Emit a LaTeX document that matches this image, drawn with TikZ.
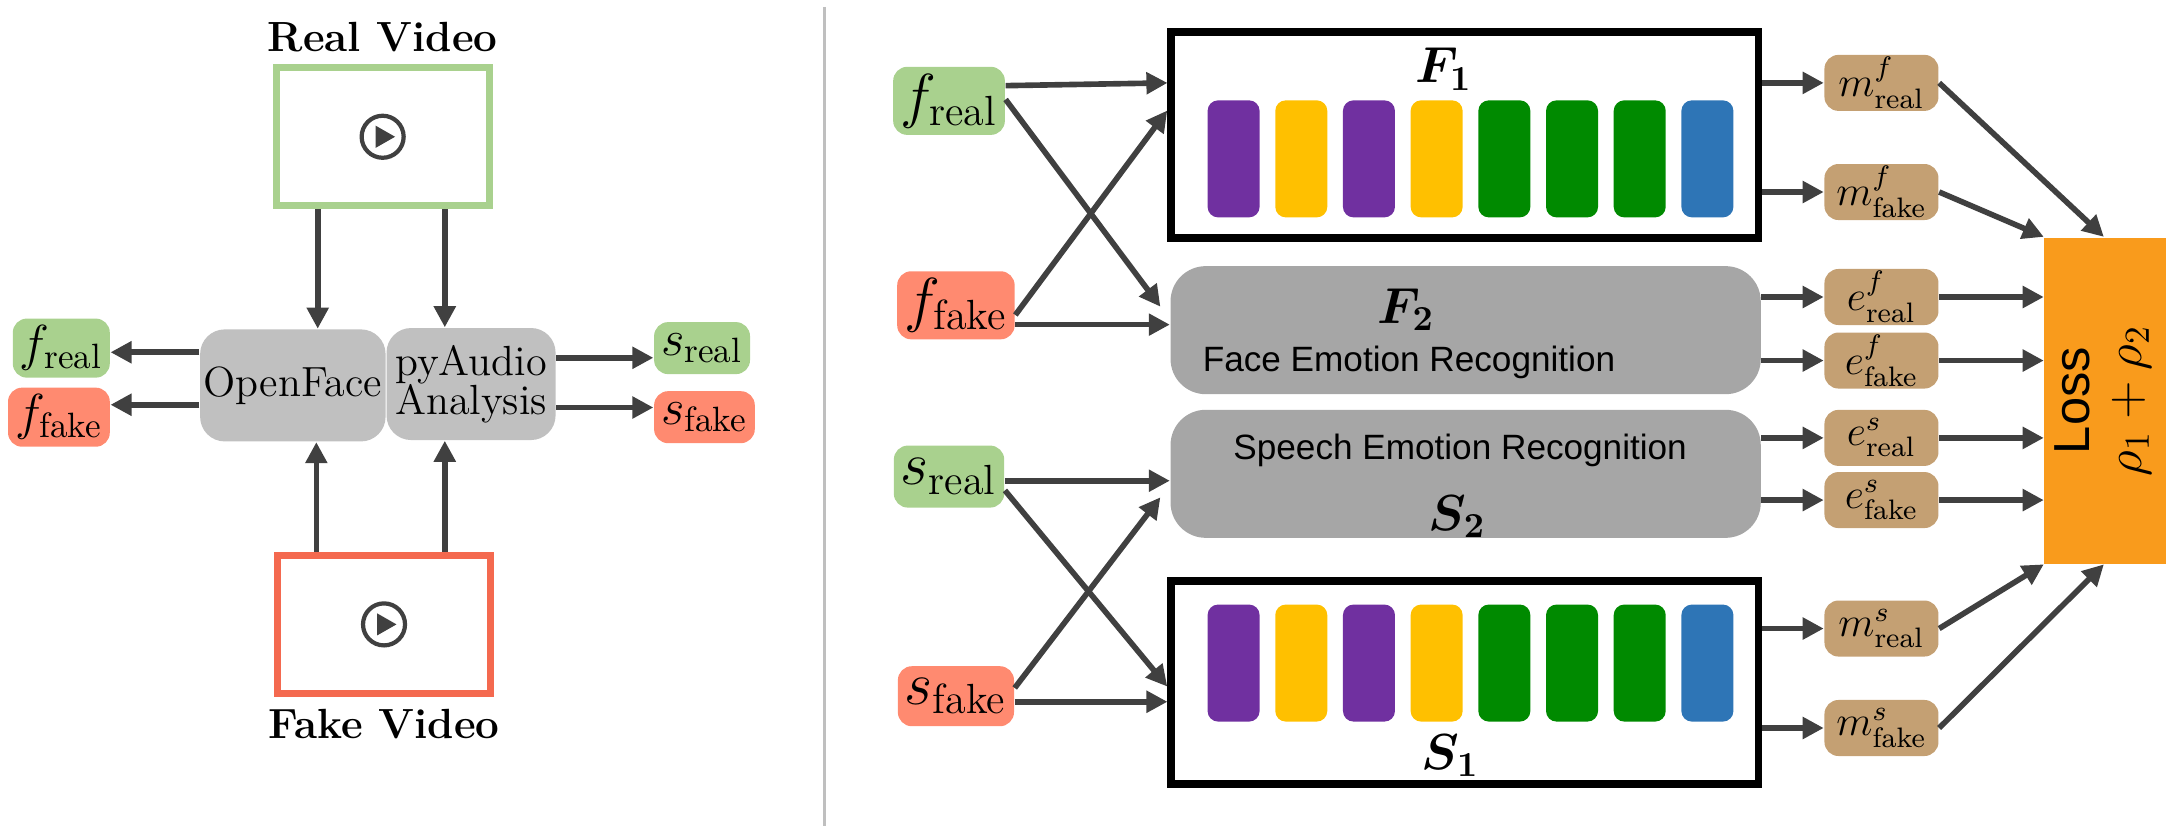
\documentclass[tikz,border=0pt]{standalone}
\usepackage{tikz}
\usepackage{fontspec}
\usepackage{amsmath}
\usetikzlibrary{calc,positioning,arrows.meta}
\newfontfamily\sans{Liberation Sans}
\definecolor{vgreen}{HTML}{A9D18E}
\definecolor{vred}{HTML}{FF8A70}
\definecolor{vredline}{HTML}{F4694F}
\definecolor{vtan}{HTML}{C4A073}
\definecolor{vgray}{HTML}{C0C0C0}
\definecolor{vgraydark}{HTML}{A6A6A6}
\definecolor{vorange}{HTML}{F99B1C}
\definecolor{vpurple}{HTML}{7030A0}
\definecolor{vyellow}{HTML}{FFC000}
\definecolor{vgreenbar}{HTML}{008A00}
\definecolor{vblue}{HTML}{2E75B6}
\definecolor{varrow}{HTML}{404040}
\tikzset{
    feat/.style={rounded corners=4pt,inner sep=2pt,minimum height=0.52cm,font=\LARGE},
    emb/.style={fill=vtan,rounded corners=4pt,minimum width=1.14cm,minimum height=0.56cm,inner sep=0pt,font=\large},
    tool/.style={fill=vgray,rounded corners=7pt,minimum height=1.12cm,inner sep=1pt,font=\large,align=center},
    net/.style={fill=vgraydark,rounded corners=10pt,minimum width=5.9cm,minimum height=1.28cm},
    arr/.style={-{Triangle[length=6pt,width=6pt]},line width=1.6pt,draw=varrow},
    bar/.style={rounded corners=3pt,minimum width=0.52cm,minimum height=1.17cm,inner sep=0pt},
  }
\begin{document}
\begin{tikzpicture}[x=0.01381cm,y=-0.01381cm]
				  \useasboundingbox (0,0) rectangle (1568,604.6);
				  %left part
				  \node[draw=vgreen,line width=2pt,minimum width=2.13cm,minimum height=1.38cm](RV) at (277,99) {};
				  \node[font=\large\bfseries,above=0pt of RV](RVl) {Real Video};
				  \node[draw=vredline,line width=2pt,minimum width=2.13cm,minimum height=1.38cm](FV) at (278,452) {};
				  \node[font=\large\bfseries,below=0pt of FV](FVl) {Fake Video};
				  \foreach \v in {RV,FV}{
				    \draw[varrow,line width=1.2pt] (\v.center) circle (0.21cm);
				    \fill[varrow] ($(\v.center)+(-5,-8)$) -- ($(\v.center)+(-5,8)$) -- ($(\v.center)+(9,0)$) -- cycle;
				  }
				  \node[tool,minimum width=1.59cm](OF) at (212,279) {OpenFace};
				  \node[tool,minimum width=1.69cm](PA) at (341,278) {pyAudio\\[-3pt]Analysis};
				  \node[feat,fill=vgreen,anchor=east,font=\Large](Lfr) at (80,252) {$f_{\text{real}}$};
				  \node[feat,fill=vred,anchor=east,font=\Large](Lff) at (80,302) {$f_{\text{fake}}$};
				  \node[feat,fill=vgreen,anchor=west,font=\Large](Lsr) at (473,252) {$s_{\text{real}}$};
				  \node[feat,fill=vred,anchor=west,font=\Large](Lsf) at (473,302) {$s_{\text{fake}}$};
				  \draw[arr] (RV.south-|230,0) -- (OF.north-|230,0);
				  \draw[arr] (RV.south-|322,0) -- (PA.north-|322,0);
				  \draw[arr] (FV.north-|229,0) -- (OF.south-|229,0);
				  \draw[arr] (FV.north-|322,0) -- (PA.south-|322,0);
				  \draw[arr] (OF.west|-0,255) -- (Lfr.east|-0,255);
				  \draw[arr] (OF.west|-0,293) -- (Lff.east|-0,293);
				  \draw[arr] (PA.east|-0,259) -- (Lsr.west|-0,259);
				  \draw[arr] (PA.east|-0,295) -- (Lsf.west|-0,295);
				  \draw[black!25,line width=0.8pt] (597,5) -- (597,598);
				  %right part
				  \node[feat,fill=vgreen,minimum height=0.62cm](fr) at (687,73) {$f_{\text{real}}$};
				  \node[feat,fill=vred,minimum height=0.6cm](ff) at (692,221) {$f_{\text{fake}}$};
				  \node[feat,fill=vgreen,minimum height=0.62cm](sr) at (687,345) {$s_{\text{real}}$};
				  \node[feat,fill=vred,minimum height=0.6cm](sf) at (692,504) {$s_{\text{fake}}$};
				  \node[draw=black,line width=2.2pt,minimum width=5.87cm,minimum height=2.06cm](F1) at (1060.5,97.5) {};
				  \node[draw=black,line width=2.2pt,minimum width=5.87cm,minimum height=2.03cm](S1) at (1060.5,494) {};
				  \node[font=\Large](F1l) at (1045,50) {$\boldsymbol{F_1}$};
				  \node[font=\Large](S1l) at (1050,547) {$\boldsymbol{S_1}$};
				  \foreach \c [count=\i from 0] in {vpurple,vyellow,vpurple,vyellow,vgreenbar,vgreenbar,vgreenbar,vblue}{
				    \node[bar,fill=\c](Fb\i) at (893+\i*49,115) {};
				    \node[bar,fill=\c](Sb\i) at (893+\i*49,480) {};
				  }
				  \node[net](F2) at (1061,239) {};
				  \node[net](S2) at (1061,343) {};
				  \node[font=\Large](F2l) at (1018,224) {$\boldsymbol{F_2}$};
				  \node[font=\sans\normalsize](F2t) at (1020,262) {Face Emotion Recognition};
				  \node[font=\sans\normalsize](S2t) at (1057,326) {Speech Emotion Recognition};
				  \node[font=\Large](S2l) at (1055,374) {$\boldsymbol{S_2}$};
				  \node[emb](mfr) at (1362,60) {$m^{f}_{\text{real}}$};
				  \node[emb](mff) at (1362,139) {$m^{f}_{\text{fake}}$};
				  \node[emb](efr) at (1362,215) {$e^{f}_{\text{real}}$};
				  \node[emb](eff) at (1362,261) {$e^{f}_{\text{fake}}$};
				  \node[emb](esr) at (1362,317) {$e^{s}_{\text{real}}$};
				  \node[emb](esf) at (1362,362) {$e^{s}_{\text{fake}}$};
				  \node[emb](msr) at (1362,455) {$m^{s}_{\text{real}}$};
				  \node[emb](msf) at (1362,527) {$m^{s}_{\text{fake}}$};
				  \node[fill=vorange,minimum width=1.215cm,minimum height=3.26cm,inner sep=0pt](L) at (1524,290) {};
				  \node[font=\sans\Large,rotate=90](Ll) at (1500,290) {Loss};
				  \node[font=\sans\Large,rotate=90](Lr) at (1543,290) {$\rho_1+\rho_2$};
				  %inputs
				  \draw[arr] (fr.east|-0,62) -- (F1.west|-0,60);
				  \draw[arr] (fr.east|-0,72) -- (840,222);
				  \draw[arr] (ff.east|-0,228) -- (845,80);
				  \draw[arr] (ff.east|-0,235) -- (F2.west|-0,235);
				  \draw[arr] (sr.east|-0,348) -- (S2.west|-0,348);
				  \draw[arr] (sr.east|-0,355) -- (845,497);
				  \draw[arr] (sf.east|-0,498) -- (840,360);
				  \draw[arr] (sf.east|-0,508) -- (S1.west|-0,508);
				  %outputs
				  \draw[arr] (F1.east|-mfr) -- (mfr.west);
				  \draw[arr] (F1.east|-mff) -- (mff.west);
				  \draw[arr] (F2.east|-efr) -- (efr.west);
				  \draw[arr] (F2.east|-eff) -- (eff.west);
				  \draw[arr] (S2.east|-esr) -- (esr.west);
				  \draw[arr] (S2.east|-esf) -- (esf.west);
				  \draw[arr] (S1.east|-msr) -- (msr.west);
				  \draw[arr] (S1.east|-msf) -- (msf.west);
				  \draw[arr] (mfr.east) -- (L.north-|1523,0);
				  \draw[arr] (mff.east) -- (L.north west);
				  \draw[arr] (efr.east) -- (L.west|-efr);
				  \draw[arr] (eff.east) -- (L.west|-eff);
				  \draw[arr] (esr.east) -- (L.west|-esr);
				  \draw[arr] (esf.east) -- (L.west|-esf);
				  \draw[arr] (msr.east) -- (L.south west);
				  \draw[arr] (msf.east) -- (L.south-|1523,0);
\end{tikzpicture}
\end{document}
